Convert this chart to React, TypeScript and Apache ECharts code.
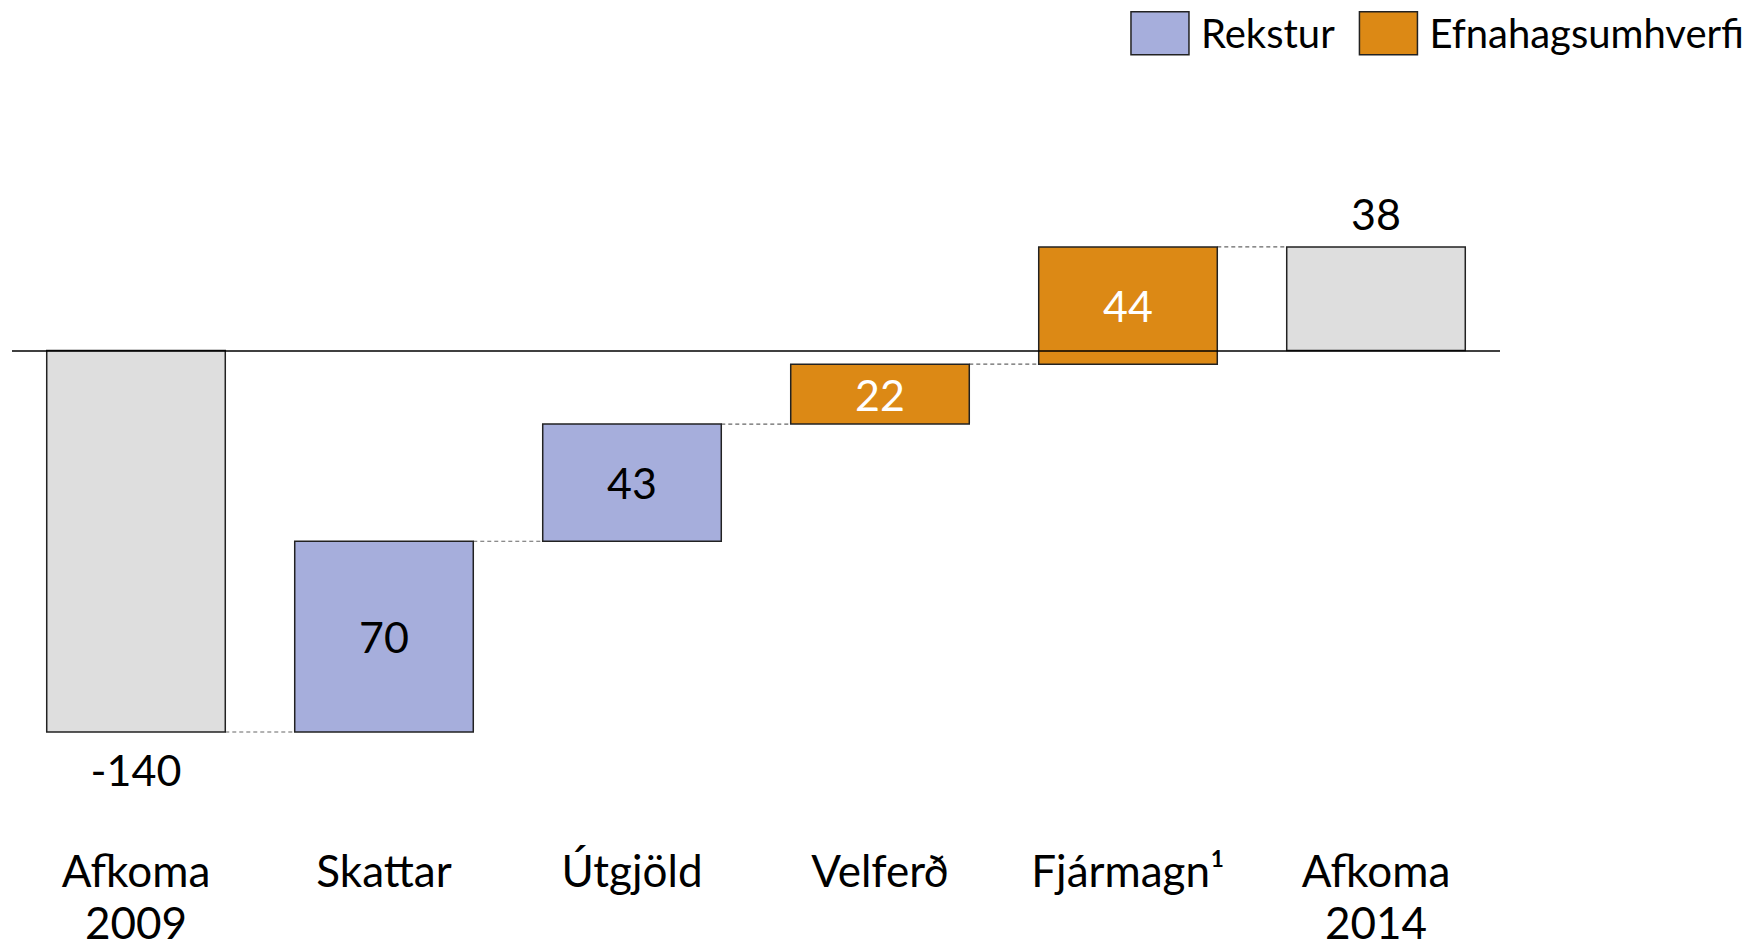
import React, { useEffect, useRef } from "react";
import * as echarts from "echarts";

const categories = ["Afkoma\n2009", "Skattar", "Útgjöld", "Velferð", "Fjármagn¹", "Afkoma\n2014"];
const values = [-140, 70, 43, 22, 44, 38];
const barBottom = [-140, -140, -70, -27, -5, 0];
const barTop = [0, -70, -27, -5, 38, 38];
const groups = ["total", "Rekstur", "Rekstur", "Efnahagsumhverfi", "Efnahagsumhverfi", "total"];
const connectorLevels = [-140, -70, -27, -5, 38];

const FONT = "Lato";
const FS = 43;
const colors: Record<string, string> = {
  total: "#dedede",
  Rekstur: "#a6aedc",
  Efnahagsumhverfi: "#dc8915",
};
const labelFill: Record<string, string> = {
  total: "#000",
  Rekstur: "#000",
  Efnahagsumhverfi: "#fff",
};
const BAR_RATIO = 0.72;

function seriesData(g: string) {
  const out: any[] = [];
  categories.forEach((_, i) => {
    if (groups[i] === g) out.push([i, barBottom[i], barTop[i], values[i]]);
  });
  return out;
}

function makeBarSeries(g: string, name: string) {
  return {
    type: "custom",
    name,
    z: 3,
    itemStyle: { color: colors[g], borderColor: "#222", borderWidth: 1.5 },
    encode: { x: 0, y: [1, 2] },
    data: seriesData(g),
    renderItem: (params: any, api: any) => {
      const x = api.value(0);
      const lo = api.value(1);
      const hi = api.value(2);
      const v = api.value(3);
      const pTop = api.coord([x, hi]);
      const pBot = api.coord([x, lo]);
      const w = api.size([1, 0])[0] * BAR_RATIO;
      let position = "inside";
      let distance = 0;
      if (g === "total") {
        position = v < 0 ? "bottom" : "top";
        distance = v < 0 ? 15 : 11;
      }
      return {
        type: "rect",
        shape: { x: pTop[0] - w / 2, y: pTop[1], width: w, height: pBot[1] - pTop[1] },
        style: { fill: colors[g], stroke: "#222", lineWidth: 1.5 },
        textContent: {
          type: "text",
          style: {
            text: String(v),
            fill: labelFill[g],
            fontSize: FS,
            fontFamily: FONT,
          },
        },
        textConfig: { position, distance },
      };
    },
  };
}

export default function App() {
  const ref = useRef<HTMLDivElement>(null);
  useEffect(() => {
    document.body.style.margin = "0";
    const chart = echarts.init(ref.current!, undefined, { renderer: "svg" });
    chart.setOption({
      animation: false,
      backgroundColor: "#fff",
      textStyle: { fontFamily: FONT },
      grid: {
        left: 12,
        right: 263,
        top: 187,
        bottom: 215,
        containLabel: false,
        outerBoundsMode: "none",
      },
      legend: {
        right: 14,
        top: 6,
        icon: "rect",
        itemWidth: 58,
        itemHeight: 43,
        itemGap: 24,
        selectedMode: false,
        itemStyle: { borderColor: "#222", borderWidth: 1.5 },
        textStyle: { fontSize: 40, fontFamily: FONT, color: "#000", padding: [0, 0, 0, 7] },
        data: ["Rekstur", "Efnahagsumhverfi"],
      },
      xAxis: {
        type: "category",
        data: categories,
        boundaryGap: true,
        axisLine: { show: false, onZero: false },
        axisTick: { show: false },
        axisLabel: {
          color: "#000",
          fontSize: 44,
          fontFamily: FONT,
          lineHeight: 52,
          margin: 112,
          interval: 0,
        },
      },
      yAxis: {
        type: "value",
        min: -140,
        max: 60,
        show: false,
      },
      series: [
        {
          type: "custom",
          name: "connectors",
          z: 1,
          data: connectorLevels.map((lv, i) => [i, lv]),
          encode: { x: 0, y: 1 },
          renderItem: (params: any, api: any) => {
            const i = api.value(0);
            const lv = api.value(1);
            const a = api.coord([i, lv]);
            const b = api.coord([i + 1, lv]);
            const hw = (api.size([1, 0])[0] * BAR_RATIO) / 2;
            return {
              type: "line",
              shape: { x1: a[0] + hw, y1: a[1], x2: b[0] - hw, y2: b[1] },
              style: { stroke: "#666", lineWidth: 1.2, lineDash: [4, 3] },
            };
          },
          markLine: {
            silent: true,
            symbol: "none",
            label: { show: false },
            lineStyle: { color: "#000", width: 1.5, type: "solid" },
            data: [{ yAxis: 0 }],
          },
        },
        makeBarSeries("total", "Afkoma"),
        makeBarSeries("Rekstur", "Rekstur"),
        makeBarSeries("Efnahagsumhverfi", "Efnahagsumhverfi"),
      ],
    });
    return () => chart.dispose();
  }, []);
  return <div ref={ref} style={{ width: 1763, height: 947, position: "absolute", left: 0, top: 0 }} />;
}
